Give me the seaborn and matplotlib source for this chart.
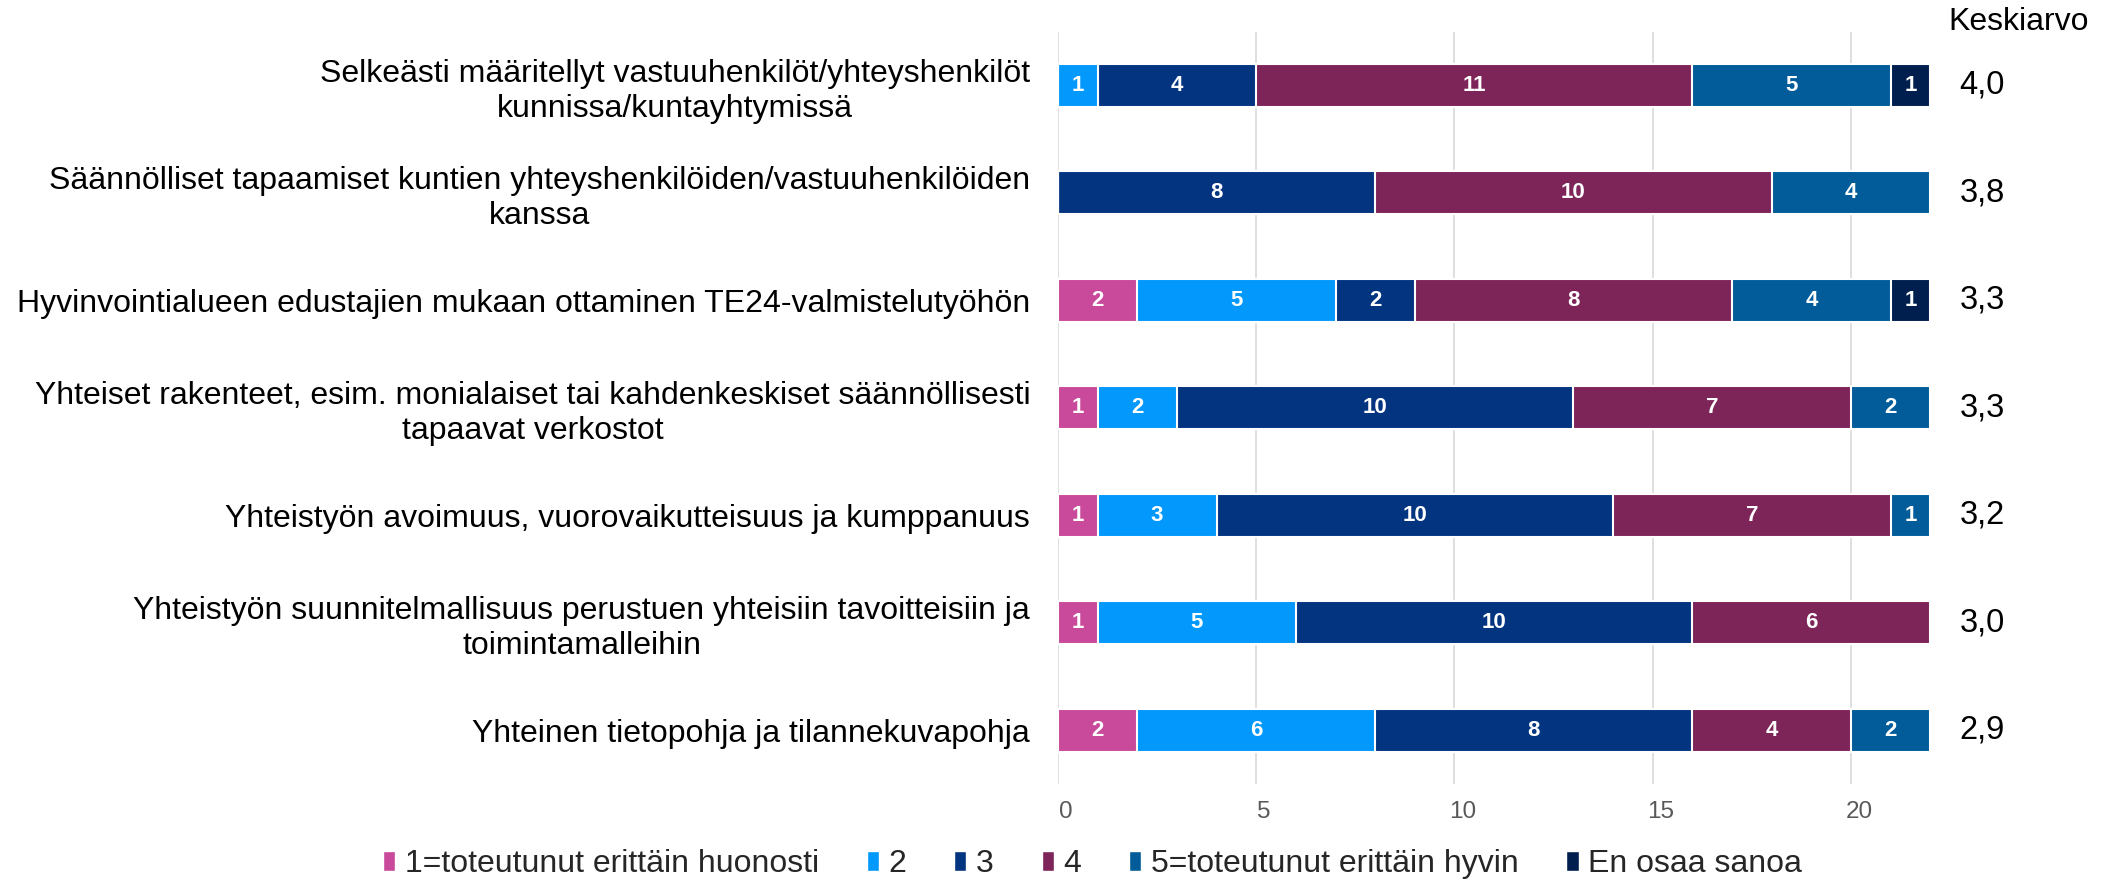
#Libraries
import numpy as np
import pandas as pd
import seaborn as sns
import matplotlib.pyplot as plt
import matplotlib.transforms as mtransforms
from matplotlib.patches import Patch

#Data
categories = [
    'Selkeästi määritellyt vastuuhenkilöt/yhteyshenkilöt\nkunnissa/kuntayhtymissä',
    'Säännölliset tapaamiset kuntien yhteyshenkilöiden/vastuuhenkilöiden\nkanssa',
    'Hyvinvointialueen edustajien mukaan ottaminen TE24-valmistelutyöhön',
    'Yhteiset rakenteet, esim. monialaiset tai kahdenkeskiset säännöllisesti\ntapaavat verkostot',
    'Yhteistyön avoimuus, vuorovaikutteisuus ja kumppanuus',
    'Yhteistyön suunnitelmallisuus perustuen yhteisiin tavoitteisiin ja\ntoimintamalleihin',
    'Yhteinen tietopohja ja tilannekuvapohja',
]
series = ['1=toteutunut erittäin huonosti', '2', '3', '4',
          '5=toteutunut erittäin hyvin', 'En osaa sanoa']
s1 = [0, 0, 2, 1, 1, 1, 2]
s2 = [1, 0, 5, 2, 3, 5, 6]
s3 = [4, 8, 2, 10, 10, 10, 8]
s4 = [11, 10, 8, 7, 7, 6, 4]
s5 = [5, 4, 4, 2, 1, 0, 2]
eos = [1, 0, 1, 0, 0, 0, 0]
averages = ['4,0', '3,8', '3,3', '3,3', '3,2', '3,0', '2,9']
colors = ['#C9499A', '#0398FC', '#023480', '#7D2458', '#015C99', '#001F4E']

df = pd.DataFrame(dict(zip(series, [s1, s2, s3, s4, s5, eos])), index=categories)
cum = df.cumsum(axis=1)

#Style
sns.set_theme(style='white')
plt.rcParams['font.family'] = ['Liberation Sans', 'DejaVu Sans']

fig = plt.figure(figsize=(21.05, 8.82), dpi=100)
ax = fig.add_axes([0.5026, 0.111, 0.4144, 0.853])

#stacked bars: draw cumulative totals from the last series down
for name, c in reversed(list(zip(series, colors))):
    sns.barplot(x=cum[name].values, y=categories, color=c, saturation=1,
                width=0.4, edgecolor='white', linewidth=1.5, ax=ax, zorder=3)

#segment labels
for i, cat in enumerate(categories):
    for name in series:
        v = df.loc[cat, name]
        if v > 0:
            ax.text(cum.loc[cat, name] - v / 2, i, str(v), ha='center', va='center',
                    color='white', fontsize=16, fontweight='bold', zorder=4)

#averages
trans = mtransforms.blended_transform_factory(fig.transFigure, ax.transData)
for i, a in enumerate(averages):
    ax.text(0.9416, i, a, transform=trans, ha='center', va='center', fontsize=23.5, color='black')
fig.text(0.959, 0.975, 'Keskiarvo', ha='center', va='center', fontsize=23, color='black')

#axes
ax.set_xlim(0, 22)
ax.set_ylim(6.5, -0.5)
ax.set_xticks([0, 5, 10, 15, 20])
ax.xaxis.grid(True, color='#D9D9D9', linewidth=1.2, zorder=0)
ax.set_axisbelow(True)
for s in ax.spines.values():
    s.set_visible(False)
ax.tick_params(axis='x', labelsize=17.5, labelcolor='#595959', length=0, pad=12)
ax.tick_params(axis='y', labelsize=23, labelcolor='black', length=0, pad=20)
shift = mtransforms.ScaledTranslation(0.08, 0, fig.dpi_scale_trans)
for lab in ax.get_xticklabels():
    lab.set_transform(lab.get_transform() + shift)
for lab in ax.get_yticklabels():
    lab.set_multialignment('center')
ax.set_xlabel('')
ax.set_ylabel('')

#legend
handles = [Patch(facecolor=c, edgecolor='white', label=n) for n, c in zip(series, colors)]
fig.legend(handles=handles, loc='center', bbox_to_anchor=(0.519, 0.02), ncol=6,
           frameon=False, fontsize=23, handlelength=0.38, handleheight=0.6,
           handletextpad=0.3, columnspacing=1.5)

fig.savefig('out.png', dpi=100)
